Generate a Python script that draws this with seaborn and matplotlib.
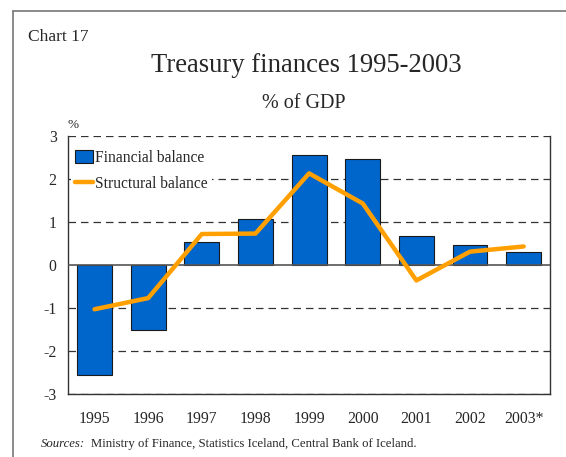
import matplotlib
matplotlib.use("Agg")
import matplotlib.pyplot as plt
import matplotlib.lines as mlines
import matplotlib.patches as mpatches
import seaborn as sns
import numpy as np
import pandas as pd

# Data
years = ["1995", "1996", "1997", "1998", "1999", "2000", "2001", "2002", "2003*"]
financial = [-2.56, -1.51, 0.53, 1.08, 2.55, 2.47, 0.67, 0.46, 0.29]
structural = [-1.03, -0.77, 0.72, 0.73, 2.13, 1.43, -0.36, 0.31, 0.43]
y_ticks = [-3, -2, -1, 0, 1, 2, 3]

df = pd.DataFrame({"year": years, "financial": financial, "structural": structural})

sns.set_style("white")
plt.rcParams["font.family"] = ["Liberation Serif", "DejaVu Serif"]

bar_color = "#0066CC"
line_color = "#FFA000"

fig = plt.figure(figsize=(5.66, 4.57), dpi=100)
ax = fig.add_axes([0.1196, 0.1379, 0.853, 0.5646])

# grid lines
for v in y_ticks:
    if v == 0:
        continue
    ax.axhline(v, color="#333333", lw=0.9, ls=(0, (6, 4)), zorder=0)

sns.barplot(data=df, x="year", y="financial", color=bar_color, width=0.65,
            edgecolor="#1a1a1a", linewidth=0.8, saturation=1, ax=ax, zorder=2)
ax.axhline(0, color="#555555", lw=1.2, zorder=3)
sns.lineplot(x=np.arange(len(years)), y=df["structural"], color=line_color,
             lw=3.2, ax=ax, zorder=4)

ax.set_xlim(-0.5, len(years) - 0.5)
ax.set_ylim(-3, 3)
ax.set_yticks(y_ticks)
ax.set_yticklabels([str(v) for v in y_ticks])
ax.set_xlabel("")
ax.set_ylabel("")
ax.tick_params(axis="both", labelsize=11.3, direction="out", length=5, width=0.8,
               color="#333333", pad=3)
ax.tick_params(axis="x", pad=7)

for side in ["left", "right", "bottom"]:
    ax.spines[side].set_visible(True)
    ax.spines[side].set_color("#333333")
    ax.spines[side].set_linewidth(1.0)
ax.spines["top"].set_visible(False)

# legend (white box, no border, hides the grid behind it)
h_bar = mpatches.Patch(facecolor=bar_color, edgecolor="#1a1a1a", linewidth=0.8,
                       label="Financial balance")
h_line = mlines.Line2D([], [], color=line_color, lw=3.2, label="Structural balance")
leg = ax.legend(handles=[h_bar, h_line], loc="upper left", bbox_to_anchor=(0.0, 0.975),
                frameon=True, fontsize=11.2, handlelength=1.1, handleheight=0.9,
                handletextpad=0.15, labelspacing=0.65, borderaxespad=0.2,
                borderpad=0.3, fancybox=False)
leg.get_frame().set_facecolor("white")
leg.get_frame().set_edgecolor("none")
leg.get_frame().set_alpha(1)
leg.set_zorder(5)

# texts
fig.text(28 / 566, 1 - 37 / 457, "Chart 17", fontsize=12.5, va="center", ha="left")
fig.text(306 / 566, 1 - 66 / 457, "Treasury finances 1995-2003", fontsize=19.2,
         va="center", ha="center")
fig.text(304 / 566, 1 - 104 / 457, "% of GDP", fontsize=14.5, va="center", ha="center")
fig.text(73 / 566, 1 - 125 / 457, "%", fontsize=9.5, va="center", ha="center")
fig.text(41 / 566, 1 - 444 / 457, "Sources:", fontsize=9.2, style="italic",
         va="center", ha="left")
fig.text(91 / 566, 1 - 444 / 457, "Ministry of Finance, Statistics Iceland, Central Bank of Iceland.",
         fontsize=9.2, va="center", ha="left")

# frame around the chart (left and top edges)
fig.add_artist(mlines.Line2D([13 / 566, 13 / 566], [0, 1 - 10.5 / 457],
                             color="#777777", lw=1.2, transform=fig.transFigure))
fig.add_artist(mlines.Line2D([13 / 566, 1], [1 - 10.5 / 457, 1 - 10.5 / 457],
                             color="#777777", lw=1.2, transform=fig.transFigure))

fig.savefig("out.png", dpi=100)
